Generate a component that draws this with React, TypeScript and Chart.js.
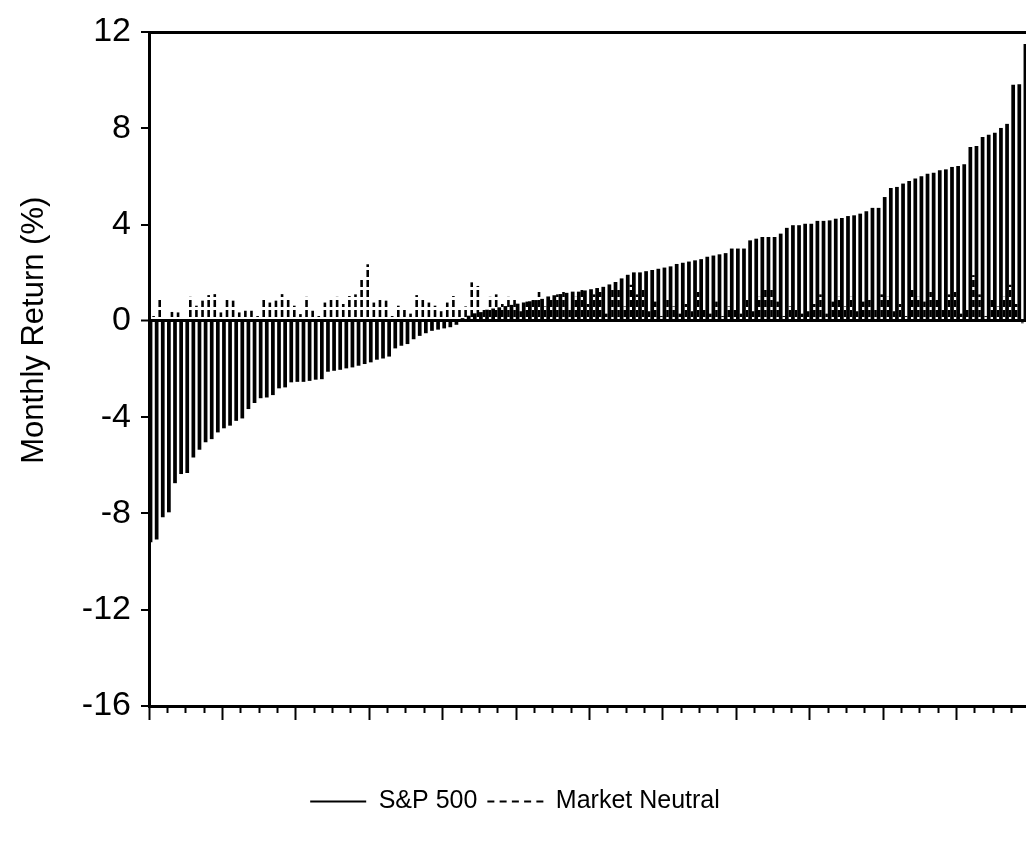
import React, { useEffect, useRef } from 'react';
import { Chart, registerables } from 'chart.js';

Chart.register(...registerables);

// S&P 500 monthly returns (%), sorted ascending (rank order of months)
const spReturns: number[] = [
  -9.18, -9.07, -8.15, -7.94, -6.73, -6.35, -6.31, -5.66, -5.34, -5.03,
  -4.9, -4.62, -4.45, -4.34, -4.14, -4.04, -3.65, -3.4, -3.2, -3.17,
  -3.07, -2.79, -2.75, -2.54, -2.52, -2.52, -2.48, -2.43, -2.41, -2.1,
  -2.06, -2.02, -1.96, -1.92, -1.85, -1.78, -1.71, -1.6, -1.55, -1.47,
  -1.13, -1.02, -0.95, -0.75, -0.61, -0.5, -0.4, -0.35, -0.3, -0.25,
  -0.15, 0.1, 0.2, 0.3, 0.35, 0.45, 0.5, 0.55, 0.6, 0.65,
  0.7, 0.75, 0.8, 0.85, 0.9, 1.0, 1.05, 1.1, 1.15, 1.2,
  1.2, 1.25, 1.3, 1.35, 1.4, 1.5, 1.6, 1.75, 1.9, 2.0,
  2.0, 2.05, 2.1, 2.15, 2.2, 2.25, 2.35, 2.4, 2.45, 2.5,
  2.55, 2.65, 2.7, 2.75, 2.8, 2.99, 2.99, 2.99, 3.33, 3.4,
  3.47, 3.47, 3.47, 3.61, 3.85, 3.96, 3.96, 4.02, 4.02, 4.14,
  4.14, 4.16, 4.23, 4.26, 4.34, 4.37, 4.44, 4.54, 4.68, 4.68,
  5.13, 5.51, 5.55, 5.69, 5.8, 5.9, 5.99, 6.1, 6.14, 6.24,
  6.28, 6.38, 6.42, 6.49, 7.21, 7.25, 7.62, 7.72, 7.8, 8.0,
  8.17, 9.79, 9.82, 11.49,
];

// Market Neutral monthly returns (%) in the same months
const mnReturns: number[] = [
  0.2, 0.93, 0.1, 0.37, 0.35, 0.15, 1.0, 0.63, 0.84, 1.07,
  1.11, 0.35, 0.93, 0.84, 0.35, 0.42, 0.42, 0.2, 0.97, 0.76,
  0.84, 1.11, 0.97, 0.63, 0.28, 1.0, 0.42, 0.2, 0.76, 0.9,
  1.0, 0.7, 1.03, 1.1, 1.7, 2.35, 0.76, 0.9, 0.84, 0.2,
  0.63, 0.5, 0.3, 1.07, 0.9, 0.76, 0.63, 0.4, 0.76, 1.03,
  0.5, 0.6, 1.6, 1.45, 0.5, 1.0, 1.1, 0.7, 1.0, 0.9,
  0.4, 0.8, 0.9, 1.2, 0.6, 0.9, 1.1, 1.2, 0.5, 1.0,
  1.3, 0.7, 1.1, 1.2, 0.3, 1.3, 1.4, 0.6, 1.5, 1.1,
  1.3, 0.4, 0.8, 0.2, 0.9, 0.6, 0.3, 0.7, 0.4, 1.2,
  0.5, 0.3, 0.8, 0.2, 0.6, 0.5, 0.3, 0.9, 0.4, 1.0,
  1.3, 1.4, 0.8, 0.2, 0.6, 0.5, 0.3, 0.4, 0.7, 1.1,
  0.3, 0.8, 1.0, 0.6, 1.0, 0.4, 0.8, 0.9, 0.5, 1.1,
  1.0, 0.4, 0.7, 0.2, 1.4, 1.0, 0.8, 1.2, 0.9, 0.5,
  1.1, 1.2, 0.3, 0.5, 1.9, 1.1, 0.2, 0.9, 0.6, 1.0,
  1.5, 0.7, -0.1, 1.2,
];

const monthRanks: string[] = spReturns.map((_, i) => String(i + 1));
const yTicks: number[] = [-16, -12, -8, -4, 0, 4, 8, 12];
const seriesNames: string[] = ['S&P 500', 'Market Neutral'];

const FONT = '"Liberation Sans", Arial, Helvetica, sans-serif';

export default function App() {
  const ref = useRef<HTMLCanvasElement | null>(null);

  useEffect(() => {
    const canvas = ref.current;
    if (!canvas) return;
    Chart.defaults.font.family = FONT;
    Chart.defaults.color = '#000';

    const pc = document.createElement('canvas');
    pc.width = 4;
    pc.height = 10;
    const pctx = pc.getContext('2d')!;
    pctx.fillStyle = '#000';
    pctx.fillRect(0, 0, 4, 7);
    const dashPattern = canvas.getContext('2d')!.createPattern(pc, 'repeat');

    const transparent = 'rgba(0,0,0,0)';

    const chart = new Chart(canvas, {
      type: 'bar',
      data: {
        labels: monthRanks,
        datasets: [
          {
            label: seriesNames[0],
            data: spReturns,
            backgroundColor: '#000',
            borderWidth: 0,
            categoryPercentage: 1,
            barPercentage: 1,
          },
          {
            label: seriesNames[1],
            data: mnReturns,
            backgroundColor: dashPattern as any,
            borderWidth: 0,
            categoryPercentage: 1,
            barPercentage: 0.85,
          },
        ],
      },
      options: {
        responsive: false,
        maintainAspectRatio: false,
        animation: false,
        layout: { padding: { top: 32, bottom: 34, left: 0, right: 10 } },
        plugins: {
          tooltip: { enabled: false },
          legend: {
            position: 'bottom',
            labels: {
              usePointStyle: true,
              pointStyleWidth: 56,
              padding: 10,
              color: '#000',
              font: { size: 25, family: FONT },
              generateLabels: (ch: any) =>
                ch.data.datasets.map((ds: any, i: number) => ({
                  text: ds.label,
                  fillStyle: transparent,
                  strokeStyle: '#000',
                  lineWidth: 2,
                  lineDash: i === 1 ? [7, 5.25] : [],
                  pointStyle: 'line',
                  hidden: false,
                  datasetIndex: i,
                  fontColor: '#000',
                })),
            },
          },
        },
        scales: {
          x: {
            type: 'category',
            axis: 'x',
            position: 'bottom',
            weight: 0,
            offset: true,
            grid: {
              display: true,
              offset: true,
              drawOnChartArea: false,
              drawTicks: true,
              tickLength: 7,
              tickWidth: 2,
              tickColor: (c: any) => (c.index !== undefined && c.index % 3 === 0 ? '#000' : transparent),
            },
            border: { display: true, width: 3, color: '#000' },
            ticks: { display: false },
          },
          xMajor: {
            type: 'category',
            axis: 'x',
            position: 'bottom',
            weight: 1,
            offset: true,
            grid: {
              display: true,
              offset: true,
              drawOnChartArea: false,
              drawTicks: true,
              tickLength: 7,
              tickWidth: 2,
              tickColor: (c: any) => (c.index !== undefined && c.index % 12 === 0 ? '#000' : transparent),
            },
            border: { display: false },
            ticks: { display: false },
            afterFit: (s: any) => {
              s.height = 66;
            },
          },
          xTop: {
            type: 'category',
            axis: 'x',
            position: 'top',
            offset: true,
            grid: { display: false, drawTicks: false },
            border: { display: true, width: 3, color: '#000' },
            ticks: { display: false },
          },
          y: {
            type: 'linear',
            position: 'left',
            min: -16,
            max: 12,
            afterBuildTicks: (s: any) => {
              s.ticks = yTicks.map((v) => ({ value: v }));
            },
            afterFit: (s: any) => {
              s.width = 149;
            },
            grid: {
              drawTicks: true,
              tickLength: 8,
              tickWidth: 2,
              tickColor: '#000',
              color: (c: any) => (c.tick && c.tick.value === 0 ? '#000' : transparent),
              lineWidth: (c: any) => (c.tick && c.tick.value === 0 ? 3 : 0),
            },
            border: { display: true, width: 3, color: '#000' },
            ticks: { color: '#000', font: { size: 34, family: FONT }, padding: 10 },
            title: {
              display: true,
              text: '         Monthly Return (%)',
              color: '#000',
              font: { size: 31, family: FONT },
              padding: { top: 16, bottom: 0 },
            },
          },
        },
      } as any,
    });
    return () => chart.destroy();
  }, []);

  return (
    <div
      style={{
        position: 'fixed',
        left: 0,
        top: 0,
        width: 1026,
        height: 858,
        overflow: 'hidden',
        background: '#fff',
      }}
    >
      <canvas ref={ref} width={1040} height={858} style={{ width: 1040, height: 858, display: 'block' }} />
    </div>
  );
}
